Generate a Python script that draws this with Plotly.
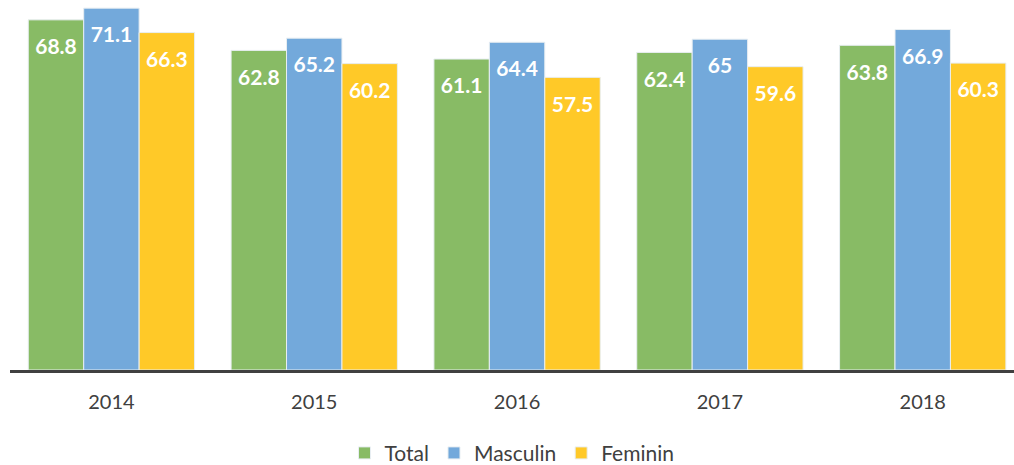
import plotly.graph_objects as go

years = ["2014", "2015", "2016", "2017", "2018"]
total = [68.8, 62.8, 61.1, 62.4, 63.8]
masculin = [71.1, 65.2, 64.4, 65, 66.9]
feminin = [66.3, 60.2, 57.5, 59.6, 60.3]

series = [
    ("Total", total, "#88BB65"),
    ("Masculin", masculin, "#73A9DB"),
    ("Feminin", feminin, "#FFC928"),
]

fig = go.Figure()
for name, vals, col in series:
    fig.add_trace(go.Bar(
        name=name, x=years, y=vals, marker_color=col,
        marker_line=dict(color="#E8EEF2", width=1),
        offsetgroup=name,
    ))
for name, vals, col in series:
    fig.add_trace(go.Scatter(
        x=years, y=vals, mode="markers+text", text=[str(v) for v in vals],
        textposition="bottom center",
        textfont=dict(family="Lato", size=21, color="white", weight="bold"),
        marker=dict(size=28, opacity=0),
        offsetgroup=name, showlegend=False, hoverinfo="skip", cliponaxis=False,
    ))

fig.update_layout(
    width=1014, height=465,
    barmode="group", bargap=0.18, bargroupgap=0,
    scattermode="group", scattergap=0.18,
    margin=dict(l=10, r=0, t=0, b=95, autoexpand=False),
    plot_bgcolor="white", paper_bgcolor="white",
    font=dict(family="Lato", color="#404040"),
    legend=dict(orientation="h", x=0.5, xanchor="center", y=-0.225, yanchor="middle",
                font=dict(size=21, color="#404040"), itemclick=False),
    showlegend=True,
)
fig.update_xaxes(range=[-0.5, 4.45], showline=True, linecolor="#404040", linewidth=3,
                 tickfont=dict(size=20, color="#404040"), ticklabelstandoff=12,
                 fixedrange=True)
fig.update_yaxes(range=[0, 72.7], visible=False, showgrid=False, fixedrange=True)

fig.write_html("out.html", config={"displayModeBar": False},
               post_script="document.body.style.margin='0';")
